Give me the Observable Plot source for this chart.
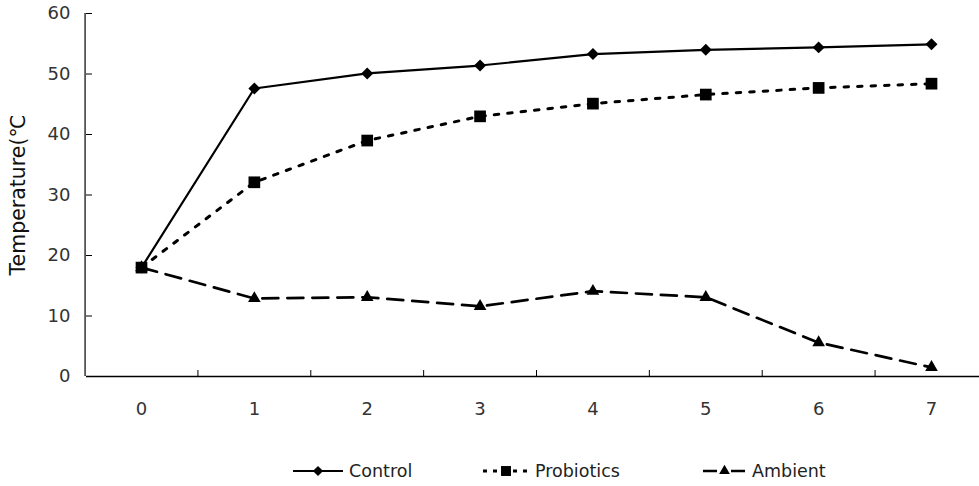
<!DOCTYPE html>
<html>
<head>
<meta charset="utf-8">
<script src="https://cdn.jsdelivr.net/npm/d3@7"></script>
<script src="https://cdn.jsdelivr.net/npm/@observablehq/plot@0.6"></script>
<style>
  html, body { margin: 0; padding: 0; background: #fff; }
  #wrap { position: relative; width: 979px; height: 486px; font-family: "DejaVu Sans", sans-serif; }
  #legend { position: absolute; left: 0; top: 458px; width: 979px; height: 26px; }
  .item { position: absolute; top: 0; height: 26px; display: flex; align-items: center; font-size: 17.5px; color: #222; }
  .item svg { display: block; margin-right: 6px; }
</style>
</head>
<body>
<div id="wrap"><div id="chart"></div><div id="legend"></div></div>
<script>
const days = [0, 1, 2, 3, 4, 5, 6, 7];
const control = [18, 47.6, 50.1, 51.4, 53.3, 54.0, 54.4, 54.9];
const probiotics = [18, 32.1, 39.0, 43.0, 45.1, 46.6, 47.7, 48.4];
const ambient = [18, 12.9, 13.1, 11.6, 14.1, 13.1, 5.6, 1.5];
const yTicks = [0, 10, 20, 30, 40, 50, 60];
const seriesNames = ["Control", "Probiotics", "Ambient"];

const styles = {
  Control:    {dash: null,   width: 2.2, symbol: "diamond2", r: 5.4},
  Probiotics: {dash: "4.5,9", width: 3,  symbol: "square",   r: 6.6},
  Ambient:    {dash: "16,9", width: 2.7, symbol: "triangle", r: 4.7}
};

const rows = (name, vals) => days.map((d, i) => ({day: d, value: vals[i], series: name}));
const cRows = rows("Control", control);
const pRows = rows("Probiotics", probiotics);
const aRows = rows("Ambient", ambient);
const between = days.slice(1).map(d => d - 0.5);

function seriesMarks(data, name) {
  const s = styles[name];
  return [
    Plot.line(data, {x: "day", y: "value", stroke: "black", strokeWidth: s.width, strokeDasharray: s.dash}),
    Plot.dot(data, {x: "day", y: "value", symbol: () => s.symbol, r: s.r, fill: "black", stroke: "none"})
  ];
}

const chart = Plot.plot({
  width: 979,
  height: 450,
  marginTop: 13,
  marginBottom: 74,
  marginLeft: 86,
  marginRight: 0,
  style: {fontFamily: "DejaVu Sans, sans-serif", fontSize: "18px", background: "white", color: "black"},
  x: {type: "linear", domain: [0, 7], range: [141, 931]},
  y: {domain: [0, 60]},
  symbol: {type: "identity"},
  marks: [
    Plot.axisY({ticks: yTicks, tickSize: -6, tickPadding: 22, tickFormat: d => String(d), fill: "#333", stroke: "black", label: null}),
    Plot.axisY({ticks: [], tickSize: 0, label: "Temperature(℃", labelAnchor: "center", labelArrow: false, labelOffset: 76, fontSize: 20.5, fill: "#111"}),
    Plot.axisX({ticks: between, tickSize: -6, tickFormat: () => "", stroke: "black", label: null}),
    Plot.axisX({ticks: days, tickSize: 0, tickPadding: 26, tickFormat: d => String(d), fill: "#333", label: null}),
    Plot.ruleX([-0.5], {stroke: "black", strokeWidth: 1.2}),
    Plot.ruleY([0], {stroke: "black", strokeWidth: 1.5}),
    ...seriesMarks(cRows, "Control"),
    ...seriesMarks(aRows, "Ambient"),
    ...seriesMarks(pRows, "Probiotics")
  ]
});
document.getElementById("chart").appendChild(chart);

// Legend
const legendPos = {Control: 293, Probiotics: 483, Ambient: 703};
const legendLen = {Control: 50, Probiotics: 46, Ambient: 43};
const legend = d3.select("#legend");
for (const name of seriesNames) {
  const s = styles[name];
  const len = legendLen[name];
  const item = legend.append("div").attr("class", "item").style("left", legendPos[name] + "px");
  const svg = item.append("svg").attr("width", len).attr("height", 26);
  svg.append("line").attr("x1", 0).attr("x2", len).attr("y1", 13).attr("y2", 13)
    .attr("stroke", "black").attr("stroke-width", s.width)
    .attr("stroke-dasharray", name === "Probiotics" ? "4,6" : name === "Ambient" ? "14,14" : null);
  const symType = {diamond2: d3.symbolDiamond2, square: d3.symbolSquare, triangle: d3.symbolTriangle}[s.symbol];
  const sz = Math.PI * (s.r * 0.85) ** 2;
  svg.append("path").attr("d", d3.symbol(symType, sz)()).attr("transform", `translate(${len / 2},13)`).attr("fill", "black");
  item.append("span").text(name);
}
</script>
</body>
</html>
